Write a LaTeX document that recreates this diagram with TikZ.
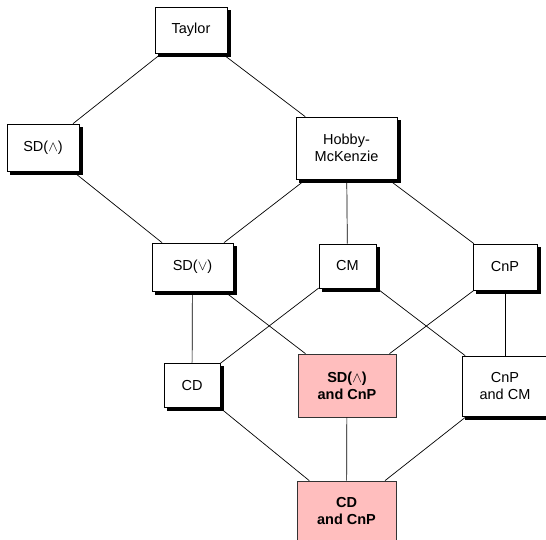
\documentclass[tikz,border=0pt]{standalone}
\usepackage{fontspec}
\setmainfont{Liberation Sans}
\definecolor{pinkbox}{RGB}{255,190,190}
\tikzset{
  box/.style={draw=black, line width=0.7pt, fill=white, align=center, inner sep=0pt,
    font=\fontsize{14.5}{17}\selectfont,
    preaction={draw=black, fill=black, transform canvas={shift={(3pt,-3pt)}}}},
  pinkbx/.style={draw=black!80, line width=0.7pt, fill=pinkbox, align=center, inner sep=0pt,
    font=\fontsize{14.5}{17}\selectfont\bfseries},
  link/.style={draw=black, line width=0.7pt}
}
\begin{document}
\begin{tikzpicture}[x=1pt,y=-1pt]
\useasboundingbox (0,0) rectangle (546,539);
\clip (0,0) rectangle (546,539);
\node[box, minimum width=72pt, minimum height=46pt] (taylor) at (191,30) {Taylor};
\node[box, minimum width=72pt, minimum height=47pt] (sdw) at (43,147.5) {SD($\wedge$)};
\node[box, minimum width=101pt, minimum height=62pt] (hm) at (346.5,148) {Hobby-\\McKenzie};
\node[box, minimum width=81pt, minimum height=48pt] (sdv) at (192.5,267) {SD($\vee$)};
\node[box, minimum width=57pt, minimum height=44pt] (cm) at (347.5,266) {CM};
\node[box, minimum width=64pt, minimum height=46pt] (cnp) at (505,267) {CnP};
\node[box, minimum width=56pt, minimum height=44pt] (cd) at (192,385) {CD};
\node[pinkbx, minimum width=98pt, minimum height=63pt] (sdwcnp) at (347,385.5) {SD($\wedge$)\\and CnP};
\node[box, minimum width=86pt, minimum height=60pt] (cnpcm) at (505,386) {CnP\\and CM};
\node[pinkbx, minimum width=99pt, minimum height=60pt] (cdcnp) at (346.5,511) {CD\\and CnP};
\draw[link] (taylor) -- (sdw);
\draw[link] (taylor) -- (hm);
\draw[link] (sdw) -- (sdv);
\draw[link] (hm) -- (sdv);
\draw[link] (hm) -- (cm);
\draw[link] (hm) -- (cnp);
\draw[link] (sdv) -- (cd);
\draw[link] (sdv) -- (sdwcnp);
\draw[link] (cm) -- (cd);
\draw[link] (cm) -- (cnpcm);
\draw[link] (cnp) -- (sdwcnp);
\draw[link] (cnp) -- (cnpcm);
\draw[link] (cd) -- (cdcnp);
\draw[link] (sdwcnp) -- (cdcnp);
\draw[link] (cnpcm) -- (cdcnp);
\end{tikzpicture}
\end{document}
